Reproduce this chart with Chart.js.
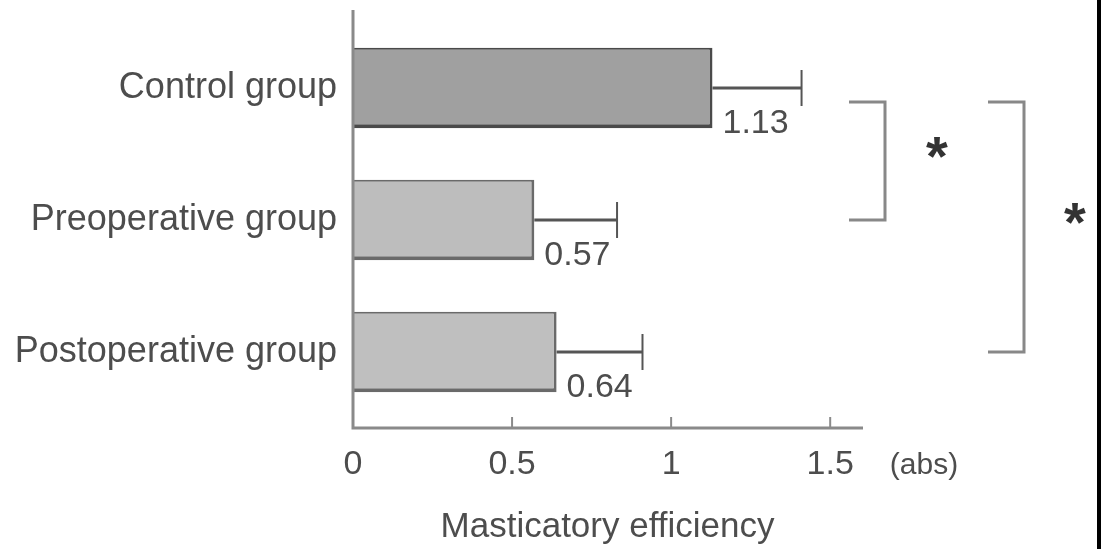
<!DOCTYPE html>
<html>
<head>
<meta charset="utf-8">
<script src="https://cdn.jsdelivr.net/npm/chart.js@4.4.1/dist/chart.umd.min.js"></script>
<style>
  html, body { margin: 0; padding: 0; background: #fff; }
  #wrap { width: 1101px; height: 549px; position: relative; }
</style>
</head>
<body>
<div id="wrap"><canvas id="myChart"></canvas></div>
<script>
const groups = ['Control group', 'Preoperative group', 'Postoperative group'];
const means = [1.13, 0.57, 0.64];
const sds = [0.28, 0.26, 0.27];
const xTicks = [0, 0.5, 1, 1.5];
// significance pairs: [from group, to group]
const sigPairs = [[0, 1], [0, 2]];

const textColor = '#4d4d4d';
const lineColor = '#8a8a8a';
const fontFamily = '"Liberation Sans", Arial, sans-serif';

const data = {
  labels: groups,
  datasets: [{
    label: 'Masticatory efficiency',
    data: means,
    backgroundColor: ['#a0a0a0', '#bdbdbd', '#bfbfbf'],
    borderColor: ['#4a4a4a', '#6a6a6a', '#6a6a6a'],
    borderWidth: { top: 2, right: 3, bottom: 4, left: 0 },
    borderSkipped: false,
    categoryPercentage: 1,
    barPercentage: 0.61
  }]
};

const extras = {
  id: 'extras',
  afterDatasetsDraw(chart) {
    const { ctx, scales: { x, y } } = chart;
    const x0 = x.getPixelForValue(0);
    const axisY = 428;
    ctx.save();

    // axes
    ctx.strokeStyle = lineColor;
    ctx.lineWidth = 3;
    ctx.beginPath();
    ctx.moveTo(x0, 10);
    ctx.lineTo(x0, axisY);
    ctx.lineTo(x.right + 1, axisY);
    ctx.stroke();
    ctx.lineWidth = 2;
    xTicks.slice(1).forEach(v => {
      const px = x.getPixelForValue(v);
      ctx.beginPath();
      ctx.moveTo(px, axisY);
      ctx.lineTo(px, axisY - 11);
      ctx.stroke();
    });

    // error bars + value labels
    means.forEach((m, i) => {
      const cy = y.getPixelForValue(i);
      const xe = x.getPixelForValue(m);
      const xs = x.getPixelForValue(m + sds[i]);
      ctx.strokeStyle = '#555';
      ctx.lineWidth = 3;
      ctx.beginPath();
      ctx.moveTo(xe, cy);
      ctx.lineTo(xs, cy);
      ctx.stroke();
      ctx.lineWidth = 2;
      ctx.beginPath();
      ctx.moveTo(xs, cy - 18);
      ctx.lineTo(xs, cy + 18);
      ctx.stroke();

      ctx.fillStyle = textColor;
      ctx.font = '34px ' + fontFamily;
      ctx.textAlign = 'left';
      ctx.textBaseline = 'middle';
      ctx.fillText(m.toFixed(2), xe + 10, cy + 36);
    });

    // significance brackets
    const bx = [885, 1024];
    const sx = [937, 1075];
    sigPairs.forEach((p, k) => {
      const yTop = y.getPixelForValue(p[0]) + 14;
      const yBot = y.getPixelForValue(p[1]);
      ctx.strokeStyle = '#888';
      ctx.lineWidth = 3;
      ctx.beginPath();
      ctx.moveTo(bx[k] - 36, yTop);
      ctx.lineTo(bx[k], yTop);
      ctx.lineTo(bx[k], yBot);
      ctx.lineTo(bx[k] - 36, yBot);
      ctx.stroke();
      ctx.fillStyle = '#333';
      ctx.font = 'bold 56px ' + fontFamily;
      ctx.textAlign = 'center';
      ctx.textBaseline = 'alphabetic';
      ctx.fillText('*', sx[k], (yTop + yBot) / 2 + 14);
    });

    // unit label
    ctx.fillStyle = textColor;
    ctx.font = '30px ' + fontFamily;
    ctx.textAlign = 'center';
    ctx.textBaseline = 'middle';
    ctx.fillText('(abs)', 924, 466);

    // right edge frame line
    ctx.fillStyle = '#000';
    ctx.fillRect(1097, 0, 4, 549);
    ctx.restore();
  }
};

const config = {
  type: 'bar',
  data,
  options: {
    indexAxis: 'y',
    responsive: true,
    maintainAspectRatio: false,
    animation: false,
    layout: { padding: { top: 22, right: 239, bottom: 0, left: 0 } },
    plugins: {
      legend: { display: false },
      tooltip: { enabled: false }
    },
    scales: {
      x: {
        min: 0,
        max: 1.6,
        afterBuildTicks: (scale) => { scale.ticks = xTicks.map(v => ({ value: v })); },
        afterFit: (scale) => { scale.height = 131; },
        grid: { display: false },
        border: { display: false },
        ticks: {
          color: textColor,
          padding: 18,
          font: { size: 34, family: fontFamily },
          callback: (v) => String(v)
        },
        title: {
          display: true,
          text: 'Masticatory efficiency',
          color: textColor,
          font: { size: 35, family: fontFamily },
          padding: { top: 0, bottom: 1 }
        }
      },
      y: {
        afterFit: (scale) => {
          scale.width = 353;
          scale.paddingTop = 0;
          scale.paddingBottom = 0;
        },
        grid: { display: false },
        border: { display: false },
        ticks: {
          color: textColor,
          padding: 8,
          font: { size: 36, family: fontFamily }
        }
      }
    }
  },
  plugins: [extras]
};

var myChart = new Chart(
  document.getElementById('myChart').getContext('2d'),
  config
);
</script>
</body>
</html>
